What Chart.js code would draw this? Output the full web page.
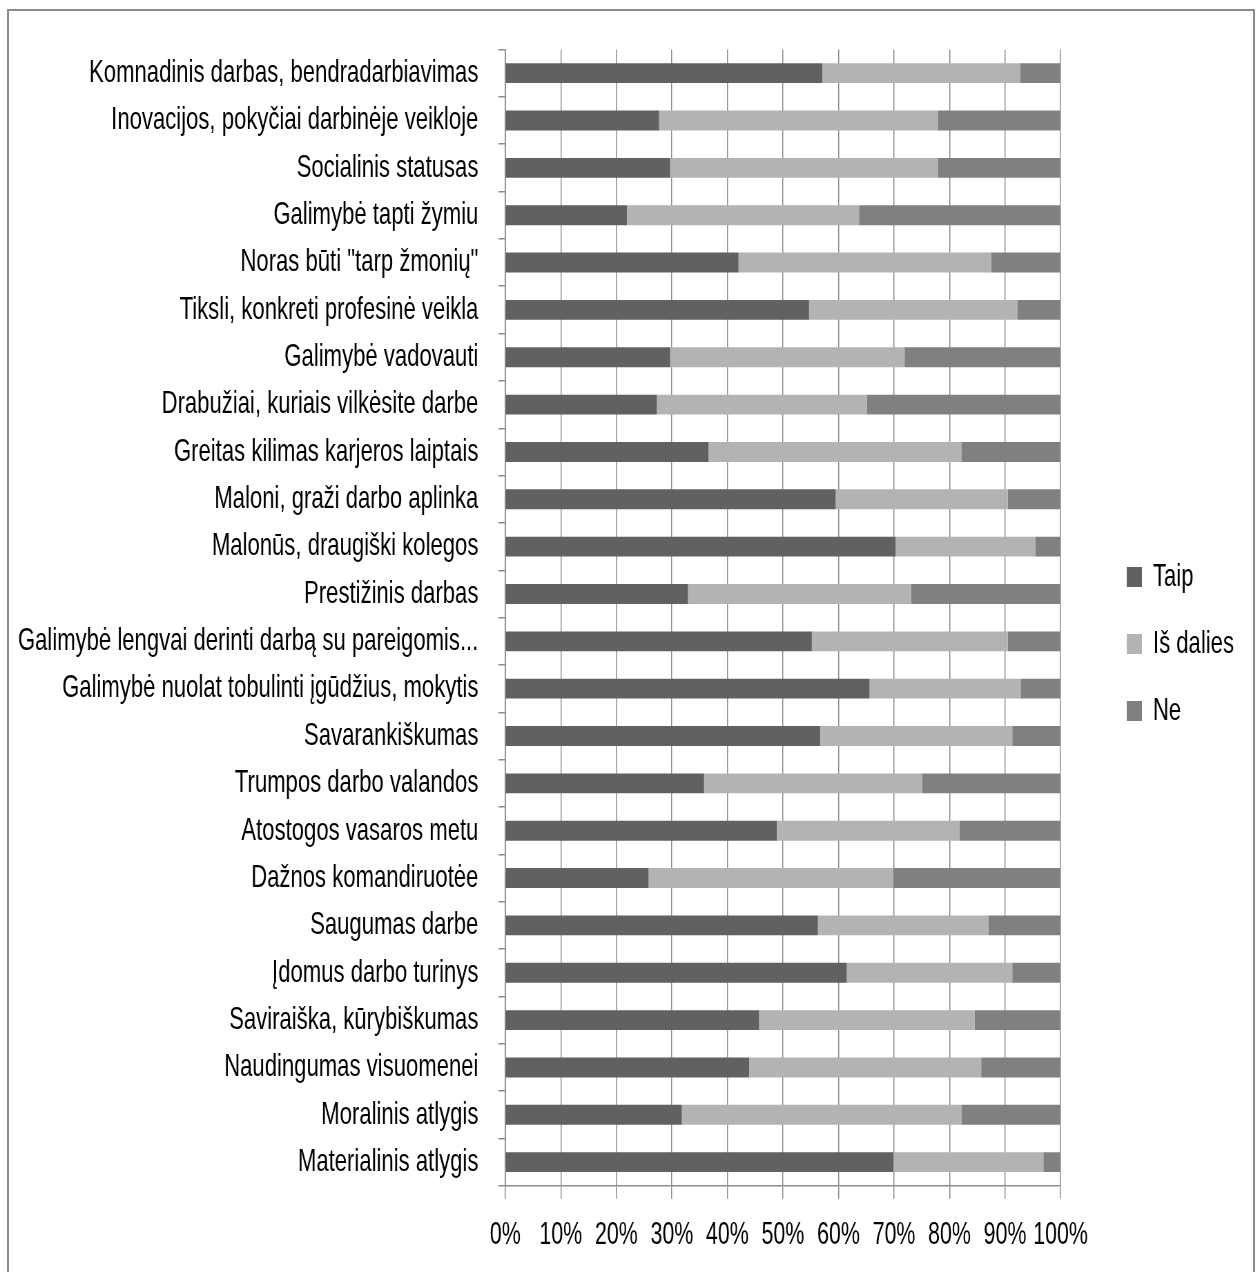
<!DOCTYPE html>
<html>
<head>
<meta charset="utf-8">
<script src="https://cdn.jsdelivr.net/npm/chart.js@4.4.1/dist/chart.umd.min.js"></script>
<style>
  html, body { margin: 0; padding: 0; background: #ffffff; overflow: hidden; width: 1259px; height: 1272px; }
  #frame { position: absolute; left: 7px; top: 9px; width: 1248px; height: 1300px; border: 2px solid #8a8a8a; box-sizing: border-box; }
  #wrap { position: absolute; left: 0; top: 0; width: 1824.6px; height: 1272px; transform: scaleX(0.69); transform-origin: 0 0; }
</style>
</head>
<body>
<div id="frame"></div>
<div id="wrap"><canvas id="c"></canvas></div>
<script>
const categories = [
  "Komnadinis darbas, bendradarbiavimas",
  "Inovacijos, pokyčiai darbinėje veikloje",
  "Socialinis statusas",
  "Galimybė tapti žymiu",
  "Noras būti \"tarp žmonių\"",
  "Tiksli, konkreti profesinė veikla",
  "Galimybė vadovauti",
  "Drabužiai, kuriais vilkėsite darbe",
  "Greitas kilimas karjeros laiptais",
  "Maloni, graži darbo aplinka",
  "Malonūs, draugiški kolegos",
  "Prestižinis darbas",
  "Galimybė lengvai derinti darbą su pareigomis...",
  "Galimybė nuolat tobulinti įgūdžius, mokytis",
  "Savarankiškumas",
  "Trumpos darbo valandos",
  "Atostogos vasaros metu",
  "Dažnos komandiruotėe",
  "Saugumas darbe",
  "Įdomus darbo turinys",
  "Saviraiška, kūrybiškumas",
  "Naudingumas visuomenei",
  "Moralinis atlygis",
  "Materialinis atlygis"
];
const seriesNames = ["Taip", "Iš dalies", "Ne"];
const taip     = [57.1, 27.7, 29.7, 21.9, 42.0, 54.7, 29.7, 27.3, 36.6, 59.5, 70.3, 32.9, 55.2, 65.6, 56.7, 35.8, 48.9, 25.8, 56.3, 61.5, 45.7, 43.9, 31.8, 69.9];
const isDalies = [35.6, 50.2, 48.2, 41.8, 45.5, 37.5, 42.2, 37.8, 45.6, 31.0, 25.2, 40.2, 35.3, 27.2, 34.6, 39.3, 32.9, 44.1, 30.7, 29.8, 38.8, 41.8, 50.4, 27.0];
const ne       = [ 7.3, 22.1, 22.1, 36.3, 12.5,  7.8, 28.1, 34.9, 17.8,  9.5,  4.5, 26.9,  9.5,  7.2,  8.7, 24.9, 18.2, 30.1, 13.0,  8.7, 15.5, 14.3, 17.8,  3.1];
const xTickLabels = ["0%", "10%", "20%", "30%", "40%", "50%", "60%", "70%", "80%", "90%", "100%"];

const colors = ["#616161", "#b3b3b3", "#808080"];
const gridColor = "#8c8c8c";

Chart.defaults.font.family = "'Liberation Sans', Arial, sans-serif";
Chart.defaults.color = "#000000";

const legendPlacer = {
  id: "legendPlacer",
  afterLayout(chart) {
    const lg = chart.legend;
    if (!lg) return;
    const w = lg.width;
    lg.left = 1597;
    lg.right = 1597 + w;
    lg.top = 526;
    lg.bottom = 920;
    lg.height = lg.bottom - lg.top;
  }
};

new Chart(document.getElementById("c"), {
  type: "bar",
  data: {
    labels: categories,
    datasets: [
      { label: seriesNames[0], data: taip, backgroundColor: colors[0], borderWidth: 0 },
      { label: seriesNames[1], data: isDalies, backgroundColor: colors[1], borderWidth: 0 },
      { label: seriesNames[2], data: ne, backgroundColor: colors[2], borderWidth: 0 }
    ]
  },
  options: {
    indexAxis: "y",
    responsive: true,
    maintainAspectRatio: false,
    animation: false,
    categoryPercentage: 0.42,
    barPercentage: 1.0,
    layout: { padding: { top: 49.5, bottom: 0, left: 0, right: 288.4 } },
    plugins: {
      tooltip: { enabled: false },
      title: { display: false },
      legend: {
        display: true,
        position: "chartArea",
        align: "start",
        labels: {
          boxWidth: 22,
          boxHeight: 20,
          padding: 35,
          color: "#000000",
          font: { size: 32 }
        }
      }
    },
    scales: {
      x: {
        stacked: true,
        min: 0,
        max: 100,
        ticks: {
          stepSize: 10,
          autoSkip: false,
          maxRotation: 0,
          minRotation: 0,
          padding: 18,
          color: "#000000",
          font: { size: 31 },
          callback: (v, i) => xTickLabels[i]
        },
        grid: {
          display: true,
          drawOnChartArea: true,
          drawTicks: true,
          tickLength: 13,
          color: gridColor,
          lineWidth: 1.5
        },
        border: { display: true, color: gridColor, width: 1.5 }
      },
      y: {
        stacked: true,
        ticks: {
          padding: 29,
          autoSkip: false,
          color: "#000000",
          font: { size: 32 }
        },
        grid: {
          display: true,
          offset: true,
          drawOnChartArea: false,
          drawTicks: true,
          tickLength: 10,
          color: gridColor,
          lineWidth: 1.5
        },
        border: { display: true, color: gridColor, width: 1.8 },
        afterFit(axis) { axis.width = 731.9; }
      }
    }
  },
  plugins: [legendPlacer]
});
</script>
</body>
</html>
